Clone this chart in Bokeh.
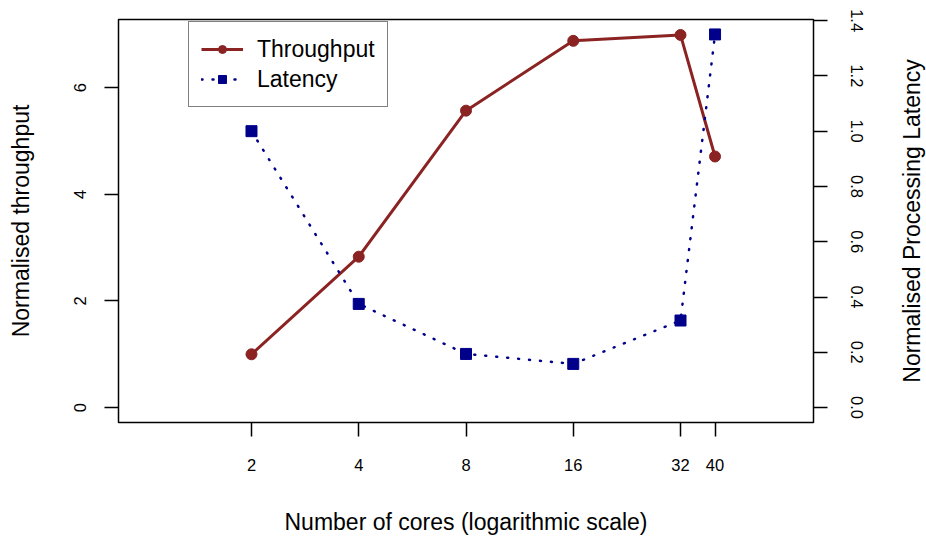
import math
from bokeh.plotting import figure
from bokeh.layouts import row
from bokeh.core.properties import value
from bokeh.models import (Range1d, LinearAxis, LogAxis, LogScale, FixedTicker, Legend, LegendItem,
                          PrintfTickFormatter)
from bokeh.embed import file_html
from bokeh.resources import INLINE

# ---- data ----
cores = [2, 4, 8, 16, 32, 40]
throughput = [1.0, 2.83, 5.57, 6.88, 6.99, 4.71]
latency = [1.0, 0.375, 0.194, 0.158, 0.315, 1.35]
x_ticks = [2, 4, 8, 16, 32, 40]
left_ticks = [0, 2, 4, 6]
right_ticks = [0.0, 0.2, 0.4, 0.6, 0.8, 1.0, 1.2, 1.4]
right_title = "Normalised Processing Latency"

RED = "#8B2323"
BLUE = "#00008B"
FONT = "Liberation Sans"

# R-style 4% padded ranges
xlo, xhi = math.log2(1), math.log2(64)
pad = 0.04 * (xhi - xlo)
x_range = Range1d(2 ** (xlo - pad), 2 ** (xhi + pad))
ty0, ty1 = 0.0, 7.0
y_range = Range1d(ty0 - 0.04 * (ty1 - ty0), ty1 + 0.04 * (ty1 - ty0))
ly0, ly1 = 0.0, 1.35
lat_range = Range1d(ly0 - 0.04 * (ly1 - ly0), ly1 + 0.04 * (ly1 - ly0))

p = figure(width=896, height=538, x_axis_type="log", x_axis_location=None,
           y_axis_location=None,
           x_range=x_range, y_range=y_range,
           output_backend="svg", toolbar_location=None,
           min_border_left=118, min_border_right=83, min_border_top=19,
           min_border_bottom=116)
p.x_scale = LogScale()
p.extra_y_ranges = {"lat": lat_range}
p.xgrid.visible = False
p.ygrid.visible = False
p.outline_line_color = "black"
p.outline_line_width = 1.5
p.background_fill_color = "white"
p.border_fill_color = "white"


def style_axis(ax, standoff, title_standoff):
    ax.axis_line_color = None
    ax.major_tick_line_color = "black"
    ax.major_tick_line_width = 1.5
    ax.major_tick_out = 14
    ax.major_tick_in = 0
    ax.minor_tick_line_color = None
    ax.major_label_text_font = FONT
    ax.major_label_text_font_size = "16.5px"
    ax.major_label_text_color = "black"
    ax.major_label_standoff = standoff
    ax.axis_label_text_font = FONT
    ax.axis_label_text_font_size = "23px"
    ax.axis_label_text_font_style = "normal"
    ax.axis_label_text_color = "black"
    ax.axis_label_standoff = title_standoff


xaxis = LogAxis(ticker=FixedTicker(ticks=x_ticks),
                axis_label="Number of cores (logarithmic scale)")
xaxis.major_label_overrides = {t: str(t) for t in x_ticks}
style_axis(xaxis, 22, 35)
p.add_layout(xaxis, "below")

yaxis = LinearAxis(ticker=FixedTicker(ticks=left_ticks), axis_label="Normalised throughput")
style_axis(yaxis, 18, 38)
yaxis.major_label_orientation = "vertical"
p.add_layout(yaxis, "left")

raxis = LinearAxis(y_range_name="lat", ticker=FixedTicker(ticks=right_ticks),
                   formatter=PrintfTickFormatter(format="%.1f"))
style_axis(raxis, 23, 32)
raxis.major_label_orientation = "vertical"
p.add_layout(raxis, "right")

l1 = p.line(cores, throughput, line_color=RED, line_width=3)
s1 = p.scatter(cores, throughput, marker="circle", size=11, fill_color=RED, line_color=RED)
l2 = p.line(cores, latency, line_color=BLUE, line_width=2.5, line_dash="1 10",
            line_cap="round", y_range_name="lat")
s2 = p.scatter(cores, latency, marker="square", size=11, fill_color=BLUE, line_color=BLUE,
               y_range_name="lat")

legend = Legend(items=[LegendItem(label="Throughput", renderers=[l1, s1]),
                       LegendItem(label="Latency", renderers=[l2, s2])],
                location=(70, 315))
legend.label_text_font = FONT
legend.label_text_font_size = "23px"
legend.label_text_color = "black"
legend.border_line_color = "black"
legend.border_line_width = 1.5
legend.background_fill_alpha = 1.0
legend.padding = 12
legend.spacing = 0
legend.glyph_width = 42
legend.glyph_height = 20
legend.label_height = 30
legend.label_standoff = 14
legend.margin = 0
p.add_layout(legend, "center")

# narrow strip on the right holding the right-hand axis title (reads bottom to top)
p2 = figure(width=30, height=538, x_range=Range1d(0, 1), y_range=y_range,
            output_backend="svg", toolbar_location=None,
            x_axis_location=None, y_axis_location=None,
            min_border_left=0, min_border_right=0, min_border_top=19,
            min_border_bottom=116)
p2.xgrid.visible = False
p2.ygrid.visible = False
p2.outline_line_color = None
p2.background_fill_color = "white"
p2.border_fill_color = "white"
p2.text(x=[0.5], y=[(y_range.start + y_range.end) / 2], text=[right_title],
        angle=math.pi / 2, text_align="center", text_baseline="middle",
        text_font=value(FONT), text_font_size="23px", text_color="black")

layout = row(p, p2, spacing=0)
open("out.html", "w").write(file_html(layout, INLINE))
